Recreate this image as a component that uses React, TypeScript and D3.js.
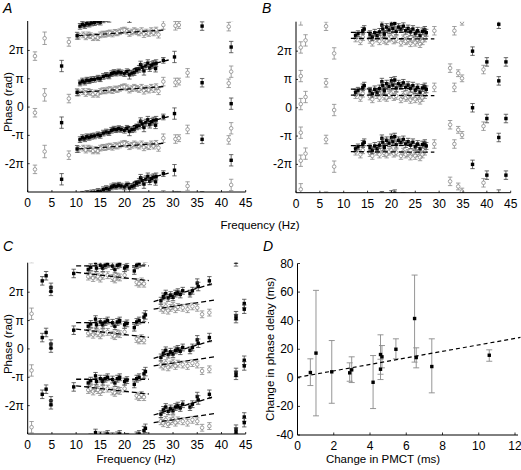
import React from 'react';
import * as d3 from 'd3';

type Pt = [number, number, number]; // frequency (Hz), phase (units of pi), error (units of pi)
type Seg = [number, number, number, number]; // f1, p1, f2, p2

// ---------- Panel A ----------
const A_FILLED: Pt[] = [
  [7.0, -0.55, 0.2], [10.2, 0.52, 0.12], [10.8, 0.85, 0.1], [11.3, 0.92, 0.1], [11.8, 0.88, 0.1],
  [12.2, 0.95, 0.1], [12.7, 0.93, 0.1], [13.2, 0.97, 0.1], [13.8, 0.98, 0.1], [14.5, 1.02, 0.1],
  [15.0, 1.0, 0.1], [15.6, 1.08, 0.1], [16.2, 1.12, 0.1], [16.8, 1.1, 0.1], [17.3, 1.18, 0.1],
  [17.8, 1.22, 0.1], [18.3, 1.2, 0.1], [18.8, 1.24, 0.1], [19.3, 1.21, 0.1], [20.0, 1.18, 0.1],
  [20.5, 1.25, 0.1], [21.0, 1.14, 0.15], [21.5, 1.2, 0.1], [22.0, 1.22, 0.1], [22.5, 1.3, 0.1],
  [23.0, 1.35, 0.12], [23.3, 1.5, 0.12], [23.7, 1.4, 0.12], [24.0, 1.28, 0.15], [24.4, 1.45, 0.12],
  [24.8, 1.55, 0.12], [25.2, 1.38, 0.12], [25.6, 1.48, 0.12], [26.0, 1.52, 0.12], [26.4, 1.36, 0.12],
  [26.5, 1.55, 0.12], [28.0, 1.65, 0.1], [30.3, 1.77, 0.2], [36.0, 0.86, 0.15], [42.0, 0.12, 0.2],
];
const A_OPEN: Pt[] = [
  [1.5, -0.2, 0.15], [3.5, 0.43, 0.22], [8.5, 0.3, 0.15], [10.5, 0.5, 0.1], [11.5, 0.55, 0.1],
  [12.0, 0.48, 0.1], [12.5, 0.55, 0.1], [13.0, 0.52, 0.1], [13.5, 0.45, 0.1], [14.0, 0.5, 0.1],
  [14.5, 0.45, 0.1], [15.0, 0.55, 0.1], [15.5, 0.58, 0.1], [16.0, 0.57, 0.1], [16.5, 0.6, 0.1],
  [17.0, 0.62, 0.1], [17.5, 0.58, 0.1], [18.0, 0.64, 0.1], [18.5, 0.62, 0.1], [19.0, 0.66, 0.1],
  [19.5, 0.7, 0.1], [20.0, 0.72, 0.1], [20.5, 0.68, 0.1], [21.0, 0.6, 0.1], [21.5, 0.65, 0.1],
  [22.0, 0.7, 0.1], [22.5, 0.66, 0.1], [23.0, 0.62, 0.1], [23.5, 0.7, 0.1], [24.0, 0.58, 0.12],
  [24.5, 0.65, 0.1], [25.0, 0.6, 0.1], [25.5, 0.7, 0.1], [26.0, 0.62, 0.1], [26.5, 0.72, 0.1],
  [27.0, 0.56, 0.12], [28.0, 0.9, 0.15], [30.5, 0.87, 0.15], [31.2, 0.9, 0.12], [33.0, -0.79, 0.15],
  [41.5, 0.84, 0.15], [42.0, -0.75, 0.2],
];
const A_LINES: Seg[] = [
  [10.5, 0.85, 29.5, 1.68],
  [10.5, 0.52, 28.0, 0.72],
];

// ---------- Panel B ----------
const B_FILLED: Pt[] = [
  [12.5, 0.55, 0.1], [13.0, 0.62, 0.1], [14.0, 0.72, 0.12], [14.3, 0.78, 0.12], [15.5, 0.6, 0.12],
  [16.0, 0.5, 0.12], [16.5, 0.65, 0.12], [17.0, 0.55, 0.12], [17.5, 0.68, 0.12], [18.0, 0.92, 0.12],
  [18.2, 0.78, 0.12], [18.5, 0.6, 0.12], [19.0, 0.85, 0.12], [19.5, 0.75, 0.12], [20.0, 0.95, 0.12],
  [20.3, 0.8, 0.12], [20.7, 0.98, 0.12], [21.0, 0.7, 0.12], [21.5, 0.85, 0.12], [22.0, 0.78, 0.12],
  [22.5, 0.88, 0.12], [23.0, 0.72, 0.12], [23.5, 0.8, 0.12], [24.0, 0.68, 0.12], [24.5, 0.78, 0.12],
  [25.0, 0.62, 0.12], [25.5, 0.72, 0.12], [26.0, 0.55, 0.12], [26.5, 0.7, 0.12], [27.0, 0.75, 0.12],
  [27.3, 0.65, 0.12], [37.0, 0.0, 0.15], [40.0, -0.38, 0.15], [42.5, -1.05, 0.15], [44.0, -0.38, 0.15],
];
const B_OPEN: Pt[] = [
  [1.0, 0.13, 0.2], [1.0, 1.12, 0.2], [2.0, 0.38, 0.2], [6.3, 0.88, 0.15], [8.0, -0.08, 0.2],
  [12.5, 0.45, 0.12], [13.5, 0.35, 0.12], [14.0, 0.5, 0.12], [15.5, 0.4, 0.12], [16.0, 0.3, 0.12],
  [17.0, 0.45, 0.12], [17.5, 0.35, 0.12], [18.0, 0.55, 0.12], [18.5, 0.4, 0.12], [19.0, 0.35, 0.12],
  [19.5, 0.45, 0.12], [20.0, 0.5, 0.12], [20.5, 0.38, 0.12], [21.0, 0.42, 0.12], [22.0, 0.3, 0.12],
  [22.5, 0.45, 0.12], [23.0, 0.35, 0.12], [23.5, 0.4, 0.12], [24.0, 0.28, 0.12], [24.5, 0.42, 0.12],
  [25.0, 0.3, 0.12], [25.5, 0.4, 0.12], [26.0, 0.25, 0.12], [26.5, 0.35, 0.12], [27.0, 0.45, 0.12],
  [29.0, 0.72, 0.15], [32.3, -0.6, 0.15], [33.2, 0.72, 0.15], [34.0, -0.78, 0.12], [34.8, -0.96, 0.12],
  [39.3, -0.65, 0.15],
];
const B_LINES: Seg[] = [
  [11.5, 0.66, 27.5, 0.68],
  [11.5, 0.45, 29.0, 0.43],
];

// ---------- Panel C ----------
const C_FILLED: Pt[] = [
  [3.0, 0.4, 0.15], [3.8, 0.58, 0.15], [4.8, 0.17, 0.15], [4.8, 0.03, 0.15], [9.5, 0.66, 0.15],
  [12.5, 0.8, 0.12], [13.0, 0.88, 0.12], [14.0, 1.05, 0.12], [14.2, 0.85, 0.12], [15.0, 0.95, 0.12],
  [15.5, 0.85, 0.12], [16.0, 0.95, 0.12], [16.5, 1.0, 0.12], [17.5, 0.92, 0.12], [18.0, 0.8, 0.12],
  [18.5, 0.95, 0.12], [19.0, 1.0, 0.12], [20.0, 0.85, 0.12], [20.5, 0.9, 0.12], [22.0, 0.75, 0.12],
  [22.5, 0.95, 0.12], [23.0, 1.0, 0.12], [24.0, 1.12, 0.15], [24.3, 1.2, 0.15],
  [27.5, -0.3, 0.12], [28.0, -0.15, 0.12], [28.5, -0.05, 0.12], [29.0, -0.2, 0.12], [29.5, -0.1, 0.12],
  [30.0, -0.18, 0.12], [30.5, -0.05, 0.12], [31.0, 0.0, 0.12], [31.5, -0.08, 0.12], [32.0, 0.05, 0.12],
  [33.5, -0.05, 0.12], [34.0, 0.05, 0.12], [35.0, 0.32, 0.15], [35.2, 0.2, 0.15], [37.5, 0.4, 0.15],
  [43.0, 1.17, 0.15], [43.0, 1.07, 0.15], [44.7, 1.6, 0.15], [44.7, 1.4, 0.15],
];
const C_OPEN: Pt[] = [
  [0.8, -0.76, 0.2],
  [12.5, 0.55, 0.12], [13.0, 0.6, 0.12], [13.5, 0.5, 0.12], [14.0, 0.62, 0.12], [14.5, 0.55, 0.12],
  [15.0, 0.48, 0.12], [15.5, 0.58, 0.12], [16.5, 0.6, 0.12], [17.5, 0.5, 0.12], [18.0, 0.45, 0.12],
  [18.5, 0.55, 0.12], [19.0, 0.52, 0.12], [20.0, 0.6, 0.12], [22.5, 0.35, 0.12], [23.0, 0.3, 0.12],
  [23.5, 0.38, 0.12], [24.0, 0.3, 0.12],
  [27.5, -0.55, 0.12], [28.0, -0.62, 0.12], [28.5, -0.5, 0.12], [29.0, -0.65, 0.12], [29.5, -0.55, 0.12],
  [30.0, -0.48, 0.12], [30.5, -0.6, 0.12], [31.0, -0.52, 0.12], [32.0, -0.55, 0.12], [33.0, -0.6, 0.12],
  [34.0, -0.5, 0.12], [35.0, -0.55, 0.12], [36.0, -0.78, 0.12], [37.5, -0.72, 0.12],
];
const C_LINES: Seg[] = [
  [10.0, 0.93, 25.0, 0.93],
  [10.0, 0.7, 25.0, 0.41],
  [26.0, -0.33, 38.5, 0.32],
  [26.0, -0.6, 38.5, -0.28],
];

// ---------- Panel D ----------
const D_PMCT = [0.71, 1.02, 1.89, 2.88, 2.99, 4.17, 4.58, 4.66, 4.58, 5.43, 6.46, 6.55, 7.41, 10.58];
const D_DELAY = [3.7, 17.3, 4.2, 3.5, 5.6, -3.1, 16.3, 14.7, 6.0, 20.0, 41.5, 14.2, 7.9, 15.8];
const D_LOW = [-5.4, -26.6, -17.8, -2.4, -3.3, -21.5, 2.5, 7.0, -1.2, 13.3, 11.0, 7.0, -10.5, 11.6];
const D_HIGH = [13.3, 61.2, 26.1, 10.5, 14.7, 15.6, 30.1, 22.6, 13.0, 27.3, 71.9, 21.0, 27.3, 19.6];
const D_FIT: [number, number][] = [[0, 0.3], [12.3, 28.3]];

const FREQ_TICKS = [0, 5, 10, 15, 20, 25, 30, 35, 40, 45];
const PHASE_TICKS = [-2, -1, 0, 1, 2];
const PHASE_LABELS = ['-2π', '-π', '0', 'π', '2π'];
const D_X_TICKS = [0, 2, 4, 6, 8, 10, 12];
const D_Y_TICKS = [-40, -20, 0, 20, 40, 60, 80];
const WRAPS = [-4, -2, 0, 2, 4];

const FONT = "'Liberation Sans', Arial, Helvetica, sans-serif";
const GREY = '#8a8a8a';

function PhasePanel(props: {
  id: string; left: number; right: number; top: number; bottom: number;
  filled: Pt[]; open: Pt[]; lines: Seg[];
}) {
  const { id, left, right, top, bottom, filled, open, lines } = props;
  const x = d3.scaleLinear().domain([0, 45]).range([left, right]);
  const y = d3.scaleLinear().domain([-3.0, 3.04]).range([bottom, top]);
  const line = d3.line<[number, number]>().x(d => x(d[0])).y(d => y(d[1]));
  const bars = (pts: Pt[], colour: string, kind: 'f' | 'o') =>
    WRAPS.flatMap(w => pts.map((p, i) => {
      const cx = x(p[0]);
      const cy = y(p[1] + w);
      const y1 = y(p[1] + w + p[2]);
      const y2 = y(p[1] + w - p[2]);
      return (
        <g key={`${kind}${w}-${i}`}>
          <line x1={cx} x2={cx} y1={y1} y2={y2} stroke={colour} strokeWidth={0.8} />
          <line x1={cx - 2.2} x2={cx + 2.2} y1={y1} y2={y1} stroke={colour} strokeWidth={0.8} />
          <line x1={cx - 2.2} x2={cx + 2.2} y1={y2} y2={y2} stroke={colour} strokeWidth={0.8} />
          {kind === 'f'
            ? <rect x={cx - 1.7} y={cy - 1.7} width={3.4} height={3.4} fill="#000" />
            : <circle cx={cx} cy={cy} r={1.8} fill="#fff" stroke={GREY} strokeWidth={0.8} />}
        </g>
      );
    }));
  return (
    <g>
      <defs>
        <clipPath id={id}>
          <rect x={left} y={top} width={right - left + 2} height={bottom - top} />
        </clipPath>
      </defs>
      <g clipPath={`url(#${id})`}>
        {bars(open, GREY, 'o')}
        {bars(filled, '#444', 'f')}
        {WRAPS.flatMap(w => lines.map((s, i) => (
          <path key={`l${w}-${i}`} d={line([[s[0], s[1] + w], [s[2], s[3] + w]]) || ''}
            stroke="#000" strokeWidth={1.3} strokeDasharray="5,3" fill="none" />
        )))}
      </g>
      <line x1={left} x2={left} y1={top} y2={bottom} stroke="#000" strokeWidth={1} />
      <line x1={left} x2={right} y1={bottom} y2={bottom} stroke="#000" strokeWidth={1} />
      {FREQ_TICKS.map(t => (
        <g key={`xt${t}`}>
          <line x1={x(t)} x2={x(t)} y1={bottom} y2={bottom - 2} stroke="#000" strokeWidth={0.8} />
          <text x={x(t)} y={bottom + 15} textAnchor="middle" fontSize={12}>{t}</text>
        </g>
      ))}
      {PHASE_TICKS.map((t, i) => (
        <g key={`yt${t}`}>
          <line x1={left} x2={left + 2} y1={y(t)} y2={y(t)} stroke="#000" strokeWidth={0.8} />
          <text x={left - 4} y={y(t) + 4} textAnchor="end" fontSize={12}>{PHASE_LABELS[i]}</text>
        </g>
      ))}
    </g>
  );
}

function PanelD() {
  const left = 297.5, right = 515, top = 263.5, bottom = 435;
  const x = d3.scaleLinear().domain([0, 12]).range([left, right]);
  const y = d3.scaleLinear().domain([-40, 80]).range([bottom, top]);
  const fit = d3.line<[number, number]>().x(d => x(d[0])).y(d => y(d[1]));
  return (
    <g>
      {D_PMCT.map((v, i) => (
        <g key={`eb${i}`}>
          <line x1={x(v)} x2={x(v)} y1={y(D_HIGH[i])} y2={y(D_LOW[i])} stroke={GREY} strokeWidth={0.9} />
          <line x1={x(v) - 3} x2={x(v) + 3} y1={y(D_HIGH[i])} y2={y(D_HIGH[i])} stroke={GREY} strokeWidth={0.9} />
          <line x1={x(v) - 3} x2={x(v) + 3} y1={y(D_LOW[i])} y2={y(D_LOW[i])} stroke={GREY} strokeWidth={0.9} />
        </g>
      ))}
      <path d={fit(D_FIT) || ''} stroke="#000" strokeWidth={1.2} strokeDasharray="4,3" fill="none" />
      {D_PMCT.map((v, i) => (
        <rect key={`pt${i}`} x={x(v) - 1.7} y={y(D_DELAY[i]) - 1.7} width={3.4} height={3.4} fill="#000" />
      ))}
      <line x1={left} x2={left} y1={top} y2={bottom} stroke="#000" strokeWidth={1} />
      <line x1={left} x2={right + 3} y1={bottom} y2={bottom} stroke="#000" strokeWidth={1} />
      {D_X_TICKS.map(t => (
        <g key={`dx${t}`}>
          <line x1={x(t)} x2={x(t)} y1={bottom} y2={bottom - 2.5} stroke="#000" strokeWidth={0.8} />
          <text x={x(t)} y={bottom + 15} textAnchor="middle" fontSize={12}>{t}</text>
        </g>
      ))}
      {D_Y_TICKS.map(t => (
        <g key={`dy${t}`}>
          <line x1={left} x2={left + 2.5} y1={y(t)} y2={y(t)} stroke="#000" strokeWidth={0.8} />
          <text x={left - 4} y={y(t) + 4} textAnchor="end" fontSize={12}>{t}</text>
        </g>
      ))}
      <text x={383} y={463} textAnchor="middle" fontSize={11.5}>Change in PMCT (ms)</text>
      <text transform="translate(274,349) rotate(-90)" textAnchor="middle" fontSize={11.5}>Change in phase delay (ms)</text>
    </g>
  );
}

export default function App() {
  return (
    <svg width={521} height={470} style={{ position: 'absolute', left: 0, top: 0, background: '#fff' }}
      fontFamily={FONT} fill="#000">
      <rect x={0} y={0} width={521} height={470} fill="#fff" />
      <PhasePanel id="clipA" left={27.7} right={245.7} top={21} bottom={192}
        filled={A_FILLED} open={A_OPEN} lines={A_LINES} />
      <PhasePanel id="clipB" left={296} right={510.7} top={21.7} bottom={192.7}
        filled={B_FILLED} open={B_OPEN} lines={B_LINES} />
      <PhasePanel id="clipC" left={27.7} right={245.7} top={262.7} bottom={434}
        filled={C_FILLED} open={C_OPEN} lines={C_LINES} />
      <PanelD />
      <text x={3} y={13} fontSize={14} fontStyle="italic">A</text>
      <text x={262} y={13} fontSize={14} fontStyle="italic">B</text>
      <text x={3} y={251} fontSize={14} fontStyle="italic">C</text>
      <text x={263} y={251} fontSize={14} fontStyle="italic">D</text>
      <text x={260} y={229} textAnchor="middle" fontSize={11.5}>Frequency (Hz)</text>
      <text x={136} y={463} textAnchor="middle" fontSize={11.5}>Frequency (Hz)</text>
      <text transform="translate(12,102) rotate(-90)" textAnchor="middle" fontSize={11.5}>Phase (rad)</text>
      <text transform="translate(12,344) rotate(-90)" textAnchor="middle" fontSize={11.5}>Phase (rad)</text>
    </svg>
  );
}
